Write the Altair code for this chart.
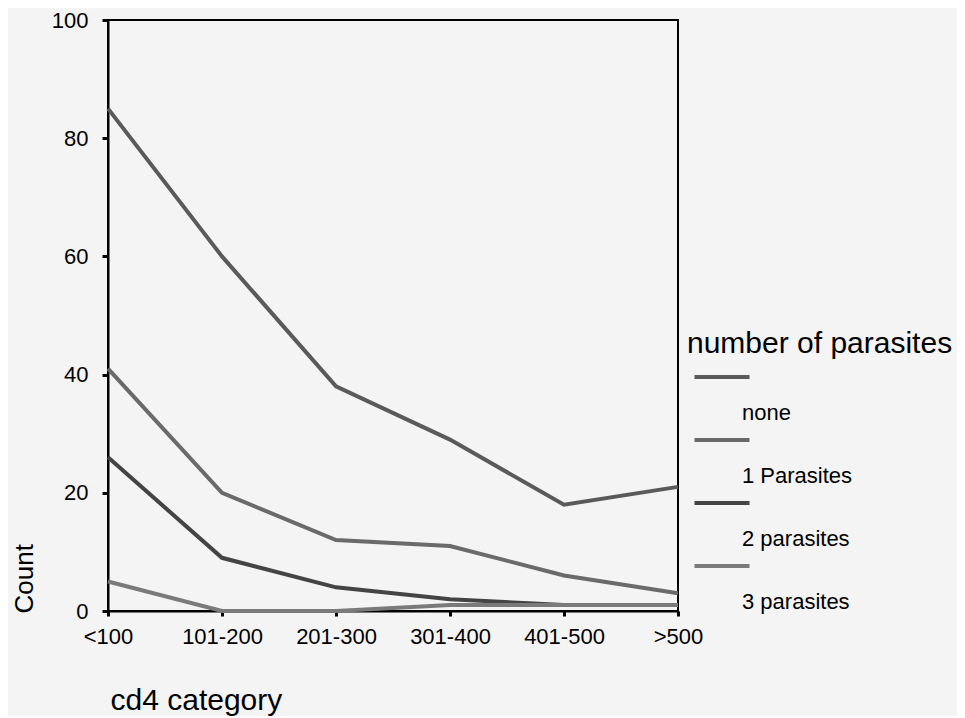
import altair as alt
import pandas as pd

categories = ["<100", "101-200", "201-300", "301-400", "401-500", ">500"]
series_names = ["none", "1 Parasites", "2 parasites", "3 parasites"]
none_counts = [85, 60, 38, 29, 18, 21]
one_counts = [41, 20, 12, 11, 6, 3]
two_counts = [26, 9, 4, 2, 1, 1]
three_counts = [5, 0, 0, 1, 1, 1]
series_colors = ["#5a5a5a", "#6a6a6a", "#444444", "#7a7a7a"]
y_ticks = [0, 20, 40, 60, 80, 100]

rows = []
for name, vals in zip(series_names, [none_counts, one_counts, two_counts, three_counts]):
    for c, v in zip(categories, vals):
        rows.append({"cd4": c, "count": v, "series": name})
df = pd.DataFrame(rows)

FONT = "Liberation Sans"

chart = (
    alt.Chart(df)
    .mark_line(strokeWidth=4, strokeJoin="miter")
    .encode(
        x=alt.X(
            "cd4:N",
            sort=categories,
            scale=alt.Scale(type="point", padding=0, domain=categories),
            axis=alt.Axis(
                title="cd4 category",
                labelAngle=0,
                labelFontSize=22,
                labelFont=FONT,
                labelColor="black",
                labelPadding=10,
                tickSize=5,
                tickWidth=3,
                tickColor="black",
                domainColor="black",
                domainWidth=2,
                titleFontSize=30,
                titleFont=FONT,
                titleFontWeight="normal",
                titleColor="black",
                titleAlign="left",
                titleBaseline="alphabetic",
                titleX=2,
                titleY=98,
                grid=False,
            ),
        ),
        y=alt.Y(
            "count:Q",
            scale=alt.Scale(domain=[0, 100], nice=False),
            axis=alt.Axis(
                title="Count",
                values=y_ticks,
                labelFontSize=22,
                labelFont=FONT,
                labelColor="black",
                labelPadding=14,
                tickSize=6,
                tickWidth=3,
                tickColor="black",
                domainColor="black",
                domainWidth=2,
                titleFontSize=26,
                titleFont=FONT,
                titleFontWeight="normal",
                titleColor="black",
                titleAngle=270,
                titleAlign="left",
                titleBaseline="alphabetic",
                titleX=-76,
                titleY=593,
                grid=False,
            ),
        ),
        color=alt.Color(
            "series:N",
            sort=series_names,
            scale=alt.Scale(domain=series_names, range=series_colors),
            legend=alt.Legend(
                title="number of parasites",
                orient="none",
                legendX=579,
                legendY=309,
                titleFontSize=30,
                titleFont=FONT,
                titleFontWeight="normal",
                titleColor="black",
                titleLimit=400,
                titlePadding=2,
                symbolType="M-2,0H2",
                symbolSize=756,
                symbolStrokeWidth=4,
                symbolOffset=19,
                labelFontSize=22,
                labelFont=FONT,
                labelColor="black",
                labelOffset=4,
                labelBaseline="top",
                labelExpr="['', datum.label]",
                labelLimit=400,
                rowPadding=0,
            ),
        ),
    )
    .properties(width=570, height=591, background="#f4f4f4",
                autosize=alt.AutoSizeParams(type="none"),
                padding={"left": 100, "top": 12, "right": 279, "bottom": 105})
    .configure(
        style={"guide-label": {"lineHeight": 26}},
        view=alt.ViewConfig(stroke="black", strokeWidth=2),
    )
)

chart.save("out.html", embed_options={"renderer": "svg", "actions": False})
